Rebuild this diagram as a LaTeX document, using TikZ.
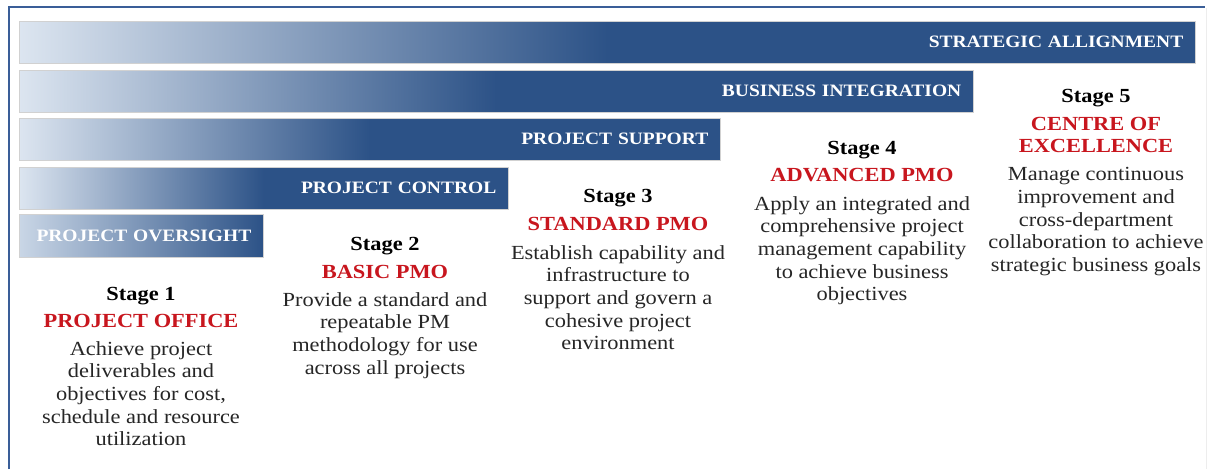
\documentclass[tikz,border=0pt]{standalone}
\usepackage{fontspec}
\setmainfont{Liberation Serif}[FakeStretch=1.12]
\definecolor{barlight}{HTML}{DCE5F0}
\definecolor{barlightB}{HTML}{C9D6E6}
\definecolor{bardark}{HTML}{2C5287}
\definecolor{framecol}{HTML}{3A5E98}
\definecolor{titlered}{HTML}{C8161E}
\definecolor{desctext}{HTML}{262626}
\pgfdeclarehorizontalshading{barshade}{100bp}{color(0bp)=(barlight); color(25bp)=(barlight); color(50bp)=(bardark); color(100bp)=(bardark)}
\pgfdeclarehorizontalshading{barshadeshort}{100bp}{color(0bp)=(barlightB); color(25bp)=(barlightB); color(75bp)=(bardark); color(100bp)=(bardark)}
\tikzset{
  bar/.style={shade, shading=barshade, draw=black!18, line width=0.6pt, inner sep=0pt,
    minimum height=42pt, anchor=north west, text=white, align=right,
    font=\fontsize{17.4}{20}\selectfont\bfseries},
  stagelbl/.style={anchor=base, inner sep=0pt, text=black,
    font=\fontsize{20}{22.7}\selectfont\bfseries},
  stagetitle/.style={anchor=base, inner sep=0pt, text=titlered, align=center,
    font=\fontsize{20}{22.7}\selectfont\bfseries},
  stagedesc/.style={anchor=base, inner sep=0pt, text=desctext, align=center,
    font=\fontsize{20}{22.7}\selectfont},
  framerule/.style={draw=framecol, line width=2pt}
}
\begin{document}
\begin{tikzpicture}[x=1pt, y=-1pt]
\useasboundingbox[fill=white] (0,0) rectangle (1214,469);
% frame
\draw[framerule] (9,469) -- (9,7) -- (1205,7);
\draw[black!7, line width=1pt] (1206,8) -- (1206,469);
% bars
\node[bar, minimum width=1176pt, text width=1152pt] (sa) at (19,21) {STRATEGIC ALLIGNMENT};
\node[bar, minimum width=954pt, text width=930pt] (bi) at (19,70) {BUSINESS INTEGRATION};
\node[bar, minimum width=701pt, text width=677pt] (ps) at (19,118) {PROJECT SUPPORT};
\node[bar, minimum width=489pt, text width=465pt] (pc) at (19,167) {PROJECT CONTROL};
\node[bar, shading=barshadeshort, minimum width=244pt, minimum height=43pt, text width=220pt] (po) at (19,214) {PROJECT OVERSIGHT};
% stage 1 (multi-line nodes are anchored at the baseline of their last line)
\node[stagelbl] (s1) at (141,300) {Stage 1};
\node[stagetitle] (t1) at (141,327.5) {PROJECT OFFICE};
\node[stagedesc] (d1) at (141,445.8) {Achieve project\\deliverables  and\\objectives for cost,\\schedule and resource\\utilization};
% stage 2
\node[stagelbl] (s2) at (385,250.5) {Stage 2};
\node[stagetitle] (t2) at (385,278) {BASIC PMO};
\node[stagedesc] (d2) at (385,374.1) {Provide a standard and\\repeatable PM\\methodology for use\\across all projects};
% stage 3
\node[stagelbl] (s3) at (618,202.5) {Stage 3};
\node[stagetitle] (t3) at (618,230.5) {STANDARD PMO};
\node[stagedesc] (d3) at (618,349.8) {Establish capability and\\infrastructure to\\support and govern a\\cohesive project\\environment};
% stage 4
\node[stagelbl] (s4) at (862,154) {Stage 4};
\node[stagetitle] (t4) at (862,181.7) {ADVANCED PMO};
\node[stagedesc] (d4) at (862,300.8) {Apply an integrated and\\comprehensive project\\management capability\\to achieve business\\objectives};
% stage 5
\node[stagelbl] (s5) at (1096,102) {Stage 5};
\node[stagetitle] (t5) at (1096,152.7) {CENTRE OF\\EXCELLENCE};
\node[stagedesc] (d5) at (1096,271.5) {Manage continuous\\improvement and\\cross-department\\collaboration to achieve\\strategic business goals};
\end{tikzpicture}
\end{document}
